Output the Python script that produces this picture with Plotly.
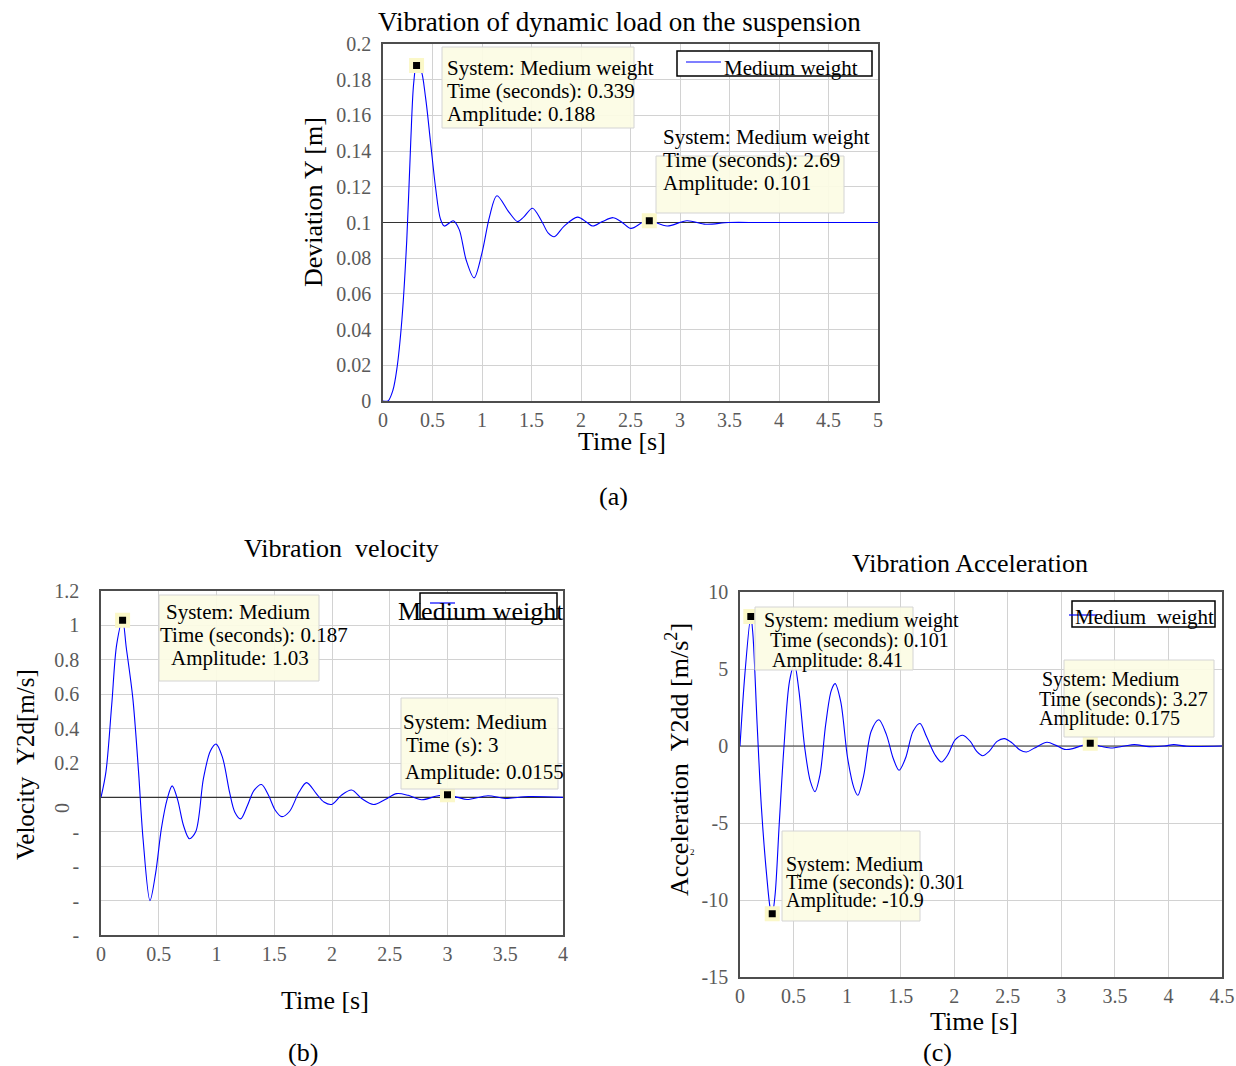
import plotly.graph_objects as go

W, H = 1236, 1066
FONT = "Liberation Serif"

# ---------------- data ----------------
a_t = [0, 0.05, 0.1, 0.14, 0.19, 0.24, 0.28, 0.31, 0.339, 0.38, 0.43, 0.48, 0.53, 0.58, 0.62,
       0.71, 0.77, 0.84, 0.92, 1.0, 1.075, 1.15, 1.27, 1.36, 1.42, 1.51, 1.6, 1.67, 1.73, 1.83,
       1.965, 2.06, 2.12, 2.215, 2.325, 2.41, 2.505, 2.62, 2.69, 2.87, 3.07, 3.26, 3.49, 3.8,
       4.2, 4.6, 5.0]
a_y = [0, 0, 0.006, 0.018, 0.045, 0.09, 0.145, 0.178, 0.188, 0.186, 0.17, 0.145, 0.12, 0.102,
       0.098, 0.101, 0.096, 0.079, 0.069, 0.083, 0.103, 0.115, 0.106, 0.1005, 0.103, 0.108,
       0.101, 0.094, 0.092, 0.098, 0.103, 0.1, 0.098, 0.1005, 0.1027, 0.1003, 0.0967, 0.1,
       0.101, 0.098, 0.101, 0.099, 0.1, 0.1, 0.1, 0.1, 0.1]
a_final = 0.1
a_tip_t = [0.339, 2.69]
a_tip_y = [0.188, 0.101]

b_t = [0, 0.043, 0.093, 0.136, 0.187, 0.219, 0.275, 0.325, 0.364, 0.424, 0.473, 0.523, 0.573,
       0.616, 0.662, 0.715, 0.765, 0.82, 0.887, 0.947, 0.997, 1.053, 1.113, 1.159, 1.209, 1.268,
       1.325, 1.39, 1.45, 1.51, 1.566, 1.632, 1.715, 1.78, 1.864, 1.93, 1.997, 2.08, 2.17, 2.26,
       2.36, 2.46, 2.56, 2.66, 2.775, 2.907, 3.0, 3.09, 3.17, 3.35, 3.5, 3.7, 4.0]
b_v = [0, 0.15, 0.54, 0.89, 1.03, 0.87, 0.58, 0.15, -0.24, -0.6, -0.44, -0.18, -0.01, 0.067,
       -0.01, -0.165, -0.24, -0.2, 0.11, 0.27, 0.31, 0.23, 0.03, -0.086, -0.125, -0.047, 0.041,
       0.075, 0.012, -0.076, -0.112, -0.082, 0.031, 0.086, 0.022, -0.027, -0.041, 0.012, 0.043,
       -0.008, -0.041, -0.012, 0.022, 0.012, -0.014, 0.008, 0.0155, 0.0, -0.012, 0.01, -0.006,
       0.005, 0]
b_final = 0.0
b_tip_t = [0.187, 3.0]
b_tip_v = [1.03, 0.0155]

c_t = [0, 0.046, 0.101, 0.12, 0.16, 0.2, 0.249, 0.284, 0.301, 0.327, 0.366, 0.41, 0.462, 0.508,
       0.55, 0.604, 0.657, 0.7, 0.746, 0.8, 0.852, 0.888, 0.94, 1.005, 1.065, 1.1, 1.155, 1.225,
       1.296, 1.367, 1.43, 1.485, 1.545, 1.616, 1.68, 1.74, 1.82, 1.88, 1.94, 2.01, 2.08, 2.15,
       2.21, 2.265, 2.326, 2.4, 2.468, 2.54, 2.61, 2.674, 2.75, 2.866, 2.95, 3.03, 3.107, 3.2,
       3.27, 3.356, 3.46, 3.59, 3.68, 3.82, 3.96, 4.05, 4.17, 4.5]
c_a = [0, 4.7, 8.41, 7.3, 1.4, -4, -8.4, -10.6, -10.9, -9.7, -5.1, -0.1, 4.2, 5.3, 3.6, -0.1,
       -2.3, -2.96, -1.9, 1.4, 3.6, 4.05, 2.9, -0.8, -2.75, -3.2, -1.9, 0.96, 1.7, 0.74, -0.8,
       -1.57, -0.8, 0.96, 1.46, 0.63, -0.57, -1.04, -0.57, 0.41, 0.7, 0.3, -0.35, -0.63, -0.35,
       0.3, 0.48, 0.2, -0.24, -0.39, -0.13, 0.24, 0.04, -0.22, -0.17, 0.05, 0.175, 0, -0.13, 0,
       0.09, -0.04, 0, 0.09, -0.02, 0]
c_final = 0.0
c_tip_t = [0.101, 0.301, 3.27]
c_tip_a = [8.41, -10.9, 0.175]

a_xticks = [0, 0.5, 1, 1.5, 2, 2.5, 3, 3.5, 4, 4.5, 5]
a_xlabels = ["0", "0.5", "1", "1.5", "2", "2.5", "3", "3.5", "4", "4.5", "5"]
a_yticks = [0, 0.02, 0.04, 0.06, 0.08, 0.1, 0.12, 0.14, 0.16, 0.18, 0.2]
a_ylabels = ["0", "0.02", "0.04", "0.06", "0.08", "0.1", "0.12", "0.14", "0.16", "0.18", "0.2"]
b_xticks = [0, 0.5, 1, 1.5, 2, 2.5, 3, 3.5, 4]
b_xlabels = ["0", "0.5", "1", "1.5", "2", "2.5", "3", "3.5", "4"]
b_yticks = [-0.8, -0.6, -0.4, -0.2, 0, 0.2, 0.4, 0.6, 0.8, 1.0, 1.2]
b_ylabels = ["-", "-", "-", "-", "", "0.2", "0.4", "0.6", "0.8", "1", "1.2"]
c_xticks = [0, 0.5, 1, 1.5, 2, 2.5, 3, 3.5, 4, 4.5]
c_xlabels = ["0", "0.5", "1", "1.5", "2", "2.5", "3", "3.5", "4", "4.5"]
c_yticks = [-15, -10, -5, 0, 5, 10]
c_ylabels = ["-15", "-10", "-5", "0", "5", "10"]

# ---------------- layout helpers ----------------
def px(x):
    return x / W

def py(y):
    return 1 - y / H

BLUE = "#0000ff"
GRID = "#d2d2d2"
FRAME = "#4d4d4d"
TICKC = "#5a5a5a"
TIPBG = "rgba(252,252,228,0.92)"
TIPBORDER = "#d4d4d4"

fig = go.Figure()

def add_series(t, y, final, tip_t, tip_y, xa, ya):
    fig.add_trace(go.Scatter(x=[t[0], t[-1]], y=[final, final], mode="lines",
                             line=dict(color="#333333", width=1.2), xaxis=xa, yaxis=ya,
                             showlegend=False, hoverinfo="skip"))
    fig.add_trace(go.Scatter(x=t, y=y, mode="lines", line=dict(color=BLUE, width=1.1,
                             shape="spline", smoothing=0.9), xaxis=xa, yaxis=ya,
                             name="Medium weight", showlegend=False))
    fig.add_trace(go.Scatter(x=tip_t, y=tip_y, mode="markers",
                             marker=dict(symbol="square", size=11, color="black",
                                         line=dict(color="#fbf8c8", width=4)),
                             xaxis=xa, yaxis=ya, showlegend=False, hoverinfo="skip"))

add_series(a_t, a_y, a_final, a_tip_t, a_tip_y, "x", "y")
add_series(b_t, b_v, b_final, b_tip_t, b_tip_v, "x2", "y2")
add_series(c_t, c_a, c_final, c_tip_t, c_tip_a, "x3", "y3")

def axis_common():
    return dict(showgrid=True, gridcolor=GRID, gridwidth=1, zeroline=False,
                showline=True, linecolor=FRAME, linewidth=1.5, mirror=True,
                ticks="", tickfont=dict(family=FONT, size=20, color=TICKC),
                tickmode="array", automargin=False)

lay = {}
lay["xaxis"] = dict(axis_common(), domain=[px(383), px(878)], range=[0, 5], anchor="y",
                    tickvals=a_xticks, ticktext=a_xlabels)
lay["yaxis"] = dict(axis_common(), domain=[py(401), py(44)], range=[0, 0.2], anchor="x",
                    tickvals=a_yticks, ticktext=a_ylabels, ticklabelstandoff=6)
lay["xaxis2"] = dict(axis_common(), domain=[px(101), px(563)], range=[0, 4], anchor="y2",
                     tickvals=b_xticks, ticktext=b_xlabels)
lay["yaxis2"] = dict(axis_common(), domain=[py(935), py(591)], range=[-0.8, 1.2], anchor="x2",
                     tickvals=b_yticks, ticktext=b_ylabels, ticklabelstandoff=16)
lay["xaxis3"] = dict(axis_common(), domain=[px(740), px(1222)], range=[0, 4.5], anchor="y3",
                     tickvals=c_xticks, ticktext=c_xlabels)
lay["yaxis3"] = dict(axis_common(), domain=[py(977), py(592)], range=[-15, 10], anchor="x3",
                     tickvals=c_yticks, ticktext=c_ylabels, ticklabelstandoff=6)

annotations = []
shapes = []

def text(s, x, y, size=21, xanchor="left", color="black", angle=0):
    annotations.append(dict(text=s, x=px(x), y=py(y), xref="paper", yref="paper",
                            xanchor=xanchor, yanchor="middle", showarrow=False,
                            textangle=angle,
                            font=dict(family=FONT, size=size, color=color)))

def rect(x0, y0, x1, y1, fill, line, lw=1):
    shapes.append(dict(type="rect", xref="paper", yref="paper", x0=px(x0), x1=px(x1),
                       y0=py(y1), y1=py(y0), fillcolor=fill,
                       line=dict(color=line, width=lw), layer="above"))

def seg(x0, x1, y, color=BLUE, lw=1.2):
    shapes.append(dict(type="line", xref="paper", yref="paper", x0=px(x0), x1=px(x1),
                       y0=py(y), y1=py(y), line=dict(color=color, width=lw), layer="above"))

# titles, axis titles, captions
text("Vibration of dynamic load on the suspension", 619, 22, 27, "center")
text("Time [s]", 622, 441, 26, "center")
text("Deviation Y [m]", 313, 202, 26, "center", angle=-90)
text("(a)", 613, 497, 26, "center")

text("Vibration  velocity", 341, 548, 26, "center")
text("Time [s]", 325, 1000, 26, "center")
text("Velocity  Y2d[m/s]", 25, 765, 25, "center", angle=-90)
text("0", 62, 808, 20, "center", color=TICKC, angle=-90)
text("(b)", 303, 1052, 26, "center")

text("Vibration Acceleration", 970, 563, 26, "center")
text("Time [s]", 974, 1021, 26, "center")
text("Acceleration  Y2dd [m/s<sup>2</sup>]", 677, 760, 26, "center", angle=-90)
text("2", 692, 852, 9, "center")
text("(c)", 937, 1052, 26, "center")

# data tip boxes
rect(442, 47, 634, 128, TIPBG, TIPBORDER)
text("System: Medium weight", 445, 68)
text("Time (seconds): 0.339", 445, 91)
text("Amplitude: 0.188", 445, 114)

rect(656, 156, 844, 213, TIPBG, TIPBORDER)
text("System: Medium weight", 661, 137)
text("Time (seconds): 2.69", 661, 160)
text("Amplitude: 0.101", 661, 183)

rect(159, 595, 319, 681, TIPBG, TIPBORDER)
text("System: Medium", 164, 612)
text("Time (seconds): 0.187", 158, 635)
text("Amplitude: 1.03", 169, 658)

rect(401, 698, 558, 789, TIPBG, TIPBORDER)
text("System: Medium", 401, 722)
text("Time (s): 3", 404, 745)
text("Amplitude: 0.0155", 403, 772)

rect(755, 607, 913, 670, TIPBG, TIPBORDER)
text("System: medium weight", 762, 620, 20)
text("Time (seconds): 0.101", 768, 640, 20)
text("Amplitude: 8.41", 770, 660, 20)

rect(782, 831, 920, 921, TIPBG, TIPBORDER)
text("System: Medium", 784, 864, 20)
text("Time (seconds): 0.301", 784, 882, 20)
text("Amplitude: -10.9", 784, 900, 20)

rect(1064, 660, 1214, 737, TIPBG, TIPBORDER)
text("System: Medium", 1040, 679, 20)
text("Time (seconds): 3.27", 1037, 699, 20)
text("Amplitude: 0.175", 1037, 718, 20)

# legend boxes
rect(677, 51, 872, 76, "white", "black", 1.5)
seg(686, 721, 62)
text("Medium weight", 722, 68, 21)

rect(420, 593, 557, 619, "white", "black", 1.5)
seg(430, 455, 603)
text("Medium weight", 396, 611, 26)

rect(1072, 601, 1215, 627, "white", "black", 1.5)
seg(1069, 1097, 615)
text("Medium  weight", 1073, 617, 21)

fig.update_layout(
    template="none",
    width=W, height=H, margin=dict(l=0, r=0, t=0, b=0, autoexpand=False),
    paper_bgcolor="white", plot_bgcolor="white",
    showlegend=False, annotations=annotations, shapes=shapes,
    font=dict(family=FONT),
    **lay,
)

fig.write_html("out.html", config={"displayModeBar": False},
               post_script="document.body.style.margin='0';document.body.style.overflow='hidden';")
